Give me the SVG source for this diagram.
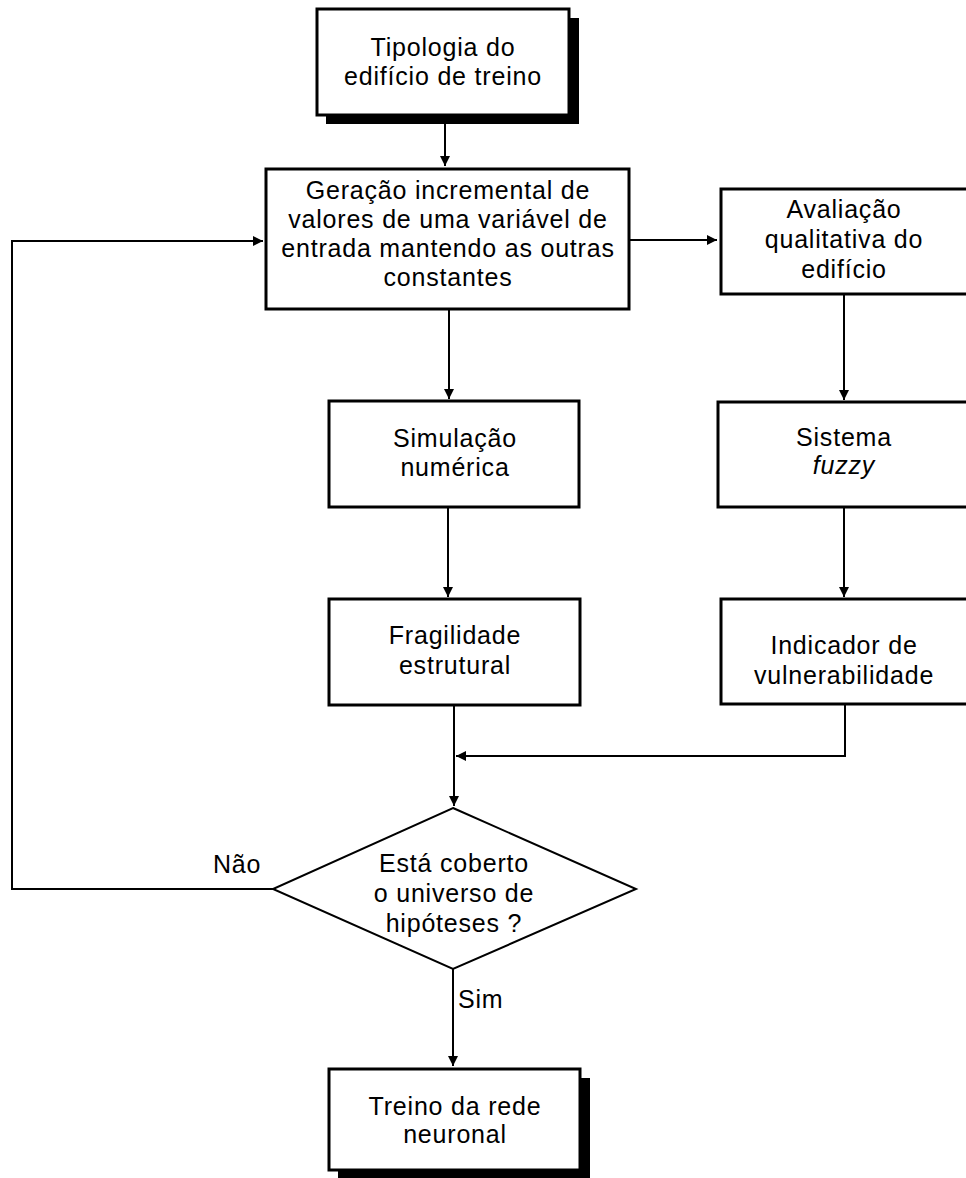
<svg xmlns="http://www.w3.org/2000/svg" width="966" height="1178" viewBox="0 0 966 1178">
<defs>
<marker id="arr" markerWidth="10" markerHeight="10" refX="10" refY="5" orient="auto" markerUnits="userSpaceOnUse">
<path d="M0,0 L10,5 L0,10 Z" fill="#000"/>
</marker>
<style>
.box{fill:#fff;stroke:#000;stroke-width:3}
.sh{fill:#000}
.ln{fill:none;stroke:#000;stroke-width:2}
text{font-family:"Liberation Sans",Arial,sans-serif;font-size:25px;letter-spacing:0.8px;fill:#000;text-anchor:middle}
.l{text-anchor:start}
</style>
</defs>
<rect width="966" height="1178" fill="#fff"/>
<g id="connectors">
<path class="ln" d="M445,116 V166" marker-end="url(#arr)"/>
<path class="ln" d="M629,240 H717" marker-end="url(#arr)"/>
<path class="ln" d="M449,310 V399" marker-end="url(#arr)"/>
<path class="ln" d="M448,508 V597" marker-end="url(#arr)"/>
<path class="ln" d="M844,295 V400" marker-end="url(#arr)"/>
<path class="ln" d="M844,508 V597" marker-end="url(#arr)"/>
<path class="ln" d="M454,706 V806" marker-end="url(#arr)"/>
<path class="ln" d="M845,705 V756 H456" marker-end="url(#arr)"/>
<path class="ln" d="M273,889 H12 V241 H263" marker-end="url(#arr)"/>
<path class="ln" d="M453,969 V1066" marker-end="url(#arr)"/>
</g>
<g id="n1">
<rect class="sh" x="326" y="18" width="253" height="106"/>
<rect class="box" x="317" y="9" width="252" height="106"/>
<text x="443" y="56">Tipologia do</text>
<text x="443" y="85">edifício de treino</text>
</g>
<g id="n2">
<rect class="box" x="266" y="169" width="363" height="140"/>
<text x="448" y="199">Geração incremental de</text>
<text x="448" y="228">valores de uma variável de</text>
<text x="448" y="257">entrada mantendo as outras</text>
<text x="448" y="286">constantes</text>
</g>
<g id="n3">
<rect class="box" x="721" y="189" width="250" height="105"/>
<text x="844" y="218">Avaliação</text>
<text x="844" y="248">qualitativa do</text>
<text x="844" y="278">edifício</text>
</g>
<g id="n4">
<rect class="box" x="329" y="401" width="250" height="106"/>
<text x="455" y="447">Simulação</text>
<text x="455" y="476">numérica</text>
</g>
<g id="n5">
<rect class="box" x="718" y="402" width="253" height="105"/>
<text x="844" y="446">Sistema</text>
<text x="844" y="474" font-style="italic">fuzzy</text>
</g>
<g id="n6">
<rect class="box" x="329" y="599" width="251" height="106"/>
<text x="455" y="644">Fragilidade</text>
<text x="455" y="674">estrutural</text>
</g>
<g id="n7">
<rect class="box" x="721" y="599" width="250" height="105"/>
<text x="844" y="654">Indicador de</text>
<text x="844" y="684">vulnerabilidade</text>
</g>
<g id="n8">
<polygon points="453,808 636,889 453,969 273,889" fill="#fff" stroke="#000" stroke-width="2"/>
<text x="454" y="872">Está coberto</text>
<text x="454" y="902">o universo de</text>
<text x="454" y="932">hipóteses ?</text>
</g>
<g id="n9">
<rect class="sh" x="338" y="1078" width="252" height="100"/>
<rect class="box" x="329" y="1069" width="251" height="101"/>
<text x="455" y="1115">Treino da rede</text>
<text x="455" y="1143">neuronal</text>
</g>
<g id="labels">
<text class="l" x="213" y="873">Não</text>
<text class="l" x="458" y="1008">Sim</text>
</g>
</svg>
